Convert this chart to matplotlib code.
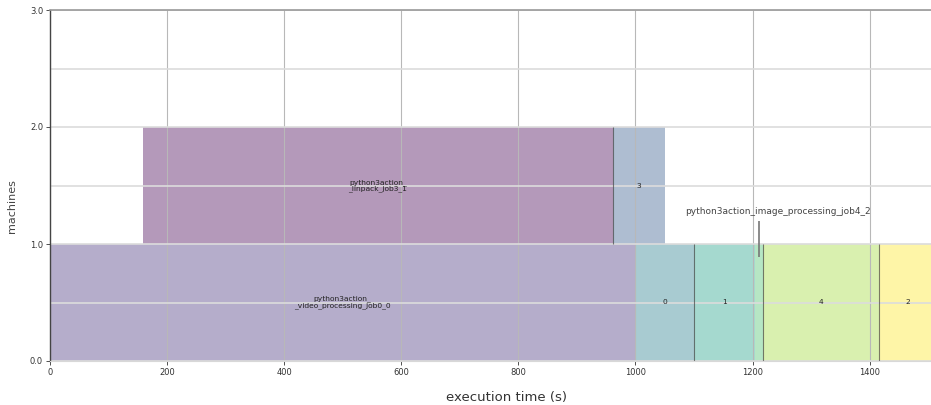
import matplotlib

matplotlib.use("Agg")

import matplotlib.pyplot as plt
import numpy as np

# job schedule: one bar per job, machine row + start/end in seconds
jobs = [
    "python3action_\n_linpack_job3_1",
    "python3action_\n_video_processing_job0_0",
    "3",
    "0",
    "1",
    "python3action_image_processing_job4_2",
    "4",
    "2",
]
machines = [1, 0, 1, 0, 0, 0, 0, 0]
starts = [159, 0, 961, 1000, 1100, 1204, 1217, 1416]
ends = [961, 1000, 1050, 1100, 1204, 1217, 1416, 1514]
# jobs whose finish is drawn as a dark boundary line
edged = ["python3action_\n_linpack_job3_1", "0",
         "python3action_image_processing_job4_2", "4"]
# jobs too narrow to hold their label; annotated above instead
annotated = ["python3action_image_processing_job4_2"]

xticks = [0, 200, 400, 600, 800, 1000, 1200, 1400]
yticks = [0.0, 1.0, 2.0, 3.0]

W, H = 931, 405
fig = plt.figure(figsize=(W / 100, H / 100), dpi=100, facecolor="white")
ax = fig.add_axes([50 / W, 44 / H, 886.4 / W, 351 / H])

colors = plt.cm.viridis(np.linspace(0, 1, len(jobs)))
starts_a = np.array(starts, dtype=float)
ends_a = np.array(ends, dtype=float)
rows = np.array(machines, dtype=float)

ax.barh(rows + 0.5, ends_a - starts_a, left=starts_a, height=1.0,
        color=colors, alpha=0.4, linewidth=0, zorder=1)

for name, s, e, m in zip(jobs, starts_a, ends_a, rows):
    if name in edged:
        ax.vlines(e, m, m + 1, color="#444444", alpha=0.7, lw=0.8, zorder=3)
    if name in annotated:
        mid = (s + e) / 2
        ax.text(mid + 33, m + 1.28, name, ha="center", va="center",
                fontsize=6.5, color="#444444", zorder=4)
        # leader line from the label down into the narrow bar
        ax.vlines(mid, m + 0.89, m + 1.2, color="#777777", lw=1.2, zorder=4)
    else:
        ax.text((s + e) / 2, m + 0.5, name, ha="center", va="center",
                fontsize=5.4, color="#222222", linespacing=1.0, zorder=4)

ax.set_xlim(0, max(ends))
ax.set_ylim(0, 3)
ax.set_xticks(xticks)
ax.set_yticks(yticks)
ax.set_yticks([0.5, 1.5, 2.5], minor=True)
ax.set_yticklabels([f"{v:.1f}" for v in yticks])
ax.tick_params(axis="both", which="major", labelsize=6, colors="#333333",
               length=3, width=0.6, pad=2)
ax.tick_params(axis="y", which="minor", length=0)

ax.grid(axis="x", which="major", color="#b8b8b8", lw=0.8, zorder=2)
ax.grid(axis="y", which="both", color="#dcdcdc", lw=1.2, zorder=2)
ax.set_axisbelow(False)

for side in ax.spines.values():
    side.set_zorder(5)
ax.spines["left"].set_color("#444444")
ax.spines["left"].set_linewidth(1.0)
ax.spines["top"].set_color("#999999")
ax.spines["top"].set_linewidth(1.2)
ax.spines["bottom"].set_color("#d8d8d8")
ax.spines["right"].set_visible(False)

fig.text(507 / W, 1 - 397 / H, "execution time (s)", ha="center",
         va="center", fontsize=9.5, color="#333333")
fig.text(12 / W, 1 - 206 / H, "machines", ha="center", va="center",
         rotation=90, fontsize=8, color="#444444")

fig.savefig("out.png", dpi=100, facecolor="white")
plt.close(fig)
